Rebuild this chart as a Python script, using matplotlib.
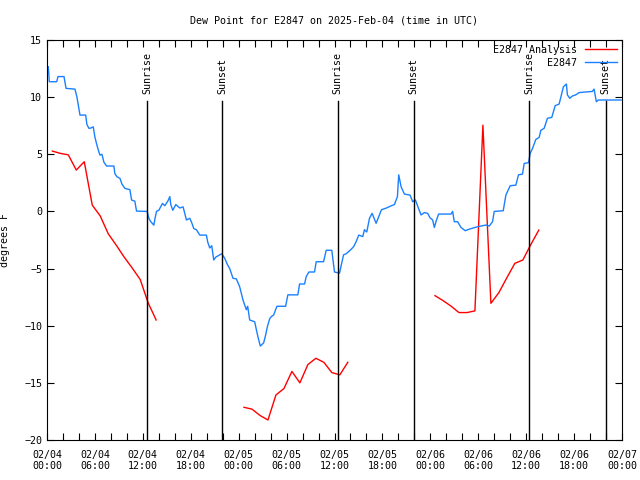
import numpy as np
import pandas as pd
import matplotlib
matplotlib.use("Agg")
import matplotlib.pyplot as plt
import matplotlib.dates as mdates

plt.rcParams['font.family'] = ['DejaVu Sans Mono']

start = pd.Timestamp("2025-02-04 00:00")

# station observations: hours since 02/04 00:00 UTC, dew point (F)
obs_hours = [0.16, 0.29, 1.21, 1.38, 2.13, 2.38, 3.5, 3.75, 4.13, 4.84, 5.0, 5.25, 5.5, 5.79,
             6.0, 6.25, 6.5, 6.63, 6.88, 7.13, 7.46, 7.88, 8.38, 8.5, 8.75, 9.13, 9.38, 9.75,
             10.38, 10.59, 11.0, 11.21, 12.54, 12.75, 13.0, 13.38, 13.5, 13.71, 14.0, 14.46,
             14.75, 15.13, 15.38, 15.5, 15.75, 16.13, 16.63, 17.04, 17.46, 17.88, 18.13, 18.38,
             18.71, 19.13, 19.96, 20.13, 20.38, 20.63, 20.88, 21.13, 21.63, 21.88, 22.25, 22.63,
             22.88, 23.29, 23.71, 24.13, 24.54, 24.96, 25.13, 25.38, 26.0, 26.41, 26.71, 27.13,
             27.38, 27.59, 27.88, 28.09, 28.38, 28.79, 29.88, 30.16, 31.41, 31.63, 32.25, 32.46,
             32.79, 33.5, 33.71, 34.63, 34.96, 35.66, 36.0, 36.63, 37.13, 37.46, 37.96, 38.38,
             38.71, 39.04, 39.54, 39.75, 40.04, 40.38, 40.71, 41.21, 41.63, 41.88, 42.5, 43.13,
             43.5, 43.71, 43.88, 44.04, 44.34, 44.75, 45.46, 45.79, 46.13, 46.41, 46.84, 47.25,
             47.66, 47.96, 48.29, 48.5, 48.75, 49.04, 50.59, 50.79, 51.0, 51.41, 51.84, 52.38,
             52.79, 53.5, 53.91, 54.96, 55.38, 55.79, 56.0, 57.13, 57.46, 58.0, 58.71, 59.04,
             59.54, 59.75, 60.29, 60.5, 60.79, 61.21, 61.63, 61.84, 62.25, 62.66, 63.21, 63.63,
             64.13, 64.34, 64.66, 65.04, 65.16, 65.46, 65.79, 66.21, 66.63, 68.29, 68.5, 68.79,
             69.04, 71.88]
obs_dewpt = [12.66, 11.35, 11.35, 11.8, 11.8, 10.77, 10.7, 10.0, 8.43, 8.43, 7.6, 7.27, 7.3, 7.4,
             6.5, 5.8, 5.2, 4.93, 5.0, 4.3, 3.97, 3.98, 3.97, 3.3, 3.04, 2.9, 2.4, 2.02,
             1.9, 1.0, 0.9, 0.03, 0.0, -0.6, -0.9, -1.2, -0.7, 0.0, 0.1, 0.7,
             0.5, 0.9, 1.3, 0.6, 0.1, 0.6, 0.3, 0.4, -0.75, -0.6, -1.0, -1.5,
             -1.6, -2.07, -2.07, -2.7, -3.2, -3.0, -4.25, -4.0, -3.8, -3.7, -4.1, -4.7,
             -5.0, -5.85, -5.9, -6.6, -7.75, -8.6, -8.3, -9.5, -9.65, -10.96, -11.78, -11.5,
             -10.8, -10.1, -9.4, -9.2, -9.06, -8.3, -8.3, -7.3, -7.3, -6.35, -6.35, -5.7,
             -5.3, -5.3, -4.4, -4.4, -3.4, -3.4, -5.3, -5.4, -3.8, -3.7, -3.4, -3.1,
             -2.65, -2.07, -2.2, -1.6, -1.8, -0.6, -0.17, -1.04, -0.3, 0.15, 0.3, 0.5,
             0.6, 1.0, 1.3, 3.2, 2.16, 1.52, 1.43, 0.85, 1.0, 0.47, -0.31, -0.1,
             -0.17, -0.55, -0.75, -1.4, -0.8, -0.23, -0.23, 0.0, -0.9, -0.9, -1.4, -1.69,
             -1.57, -1.43, -1.34, -1.19, -1.28, -0.9, 0.0, 0.06, 1.43, 2.25, 2.3, 3.2,
             3.27, 4.2, 4.26, 5.08, 5.5, 6.3, 6.48, 7.1, 7.27, 8.15, 8.23, 9.25,
             9.4, 9.98, 10.9, 11.15, 10.2, 9.9, 10.1, 10.2, 10.4, 10.5, 10.7, 9.6,
             9.75, 9.75]

# analysis: hourly values, three separate runs
ana1_start = "2025-02-04 00:40"
ana1 = [5.28, 5.08, 4.95, 3.62, 4.35, 0.55, -0.4, -1.95, -2.95, -4.0, -4.95, -5.95, -8.0, -9.5]
ana2_start = "2025-02-05 00:40"
ana2 = [-17.14, -17.3, -17.85, -18.25, -16.06, -15.5, -14.0, -15.0, -13.4, -12.85, -13.2,
        -14.1, -14.3, -13.2]
ana3_start = "2025-02-06 00:35"
ana3 = [-7.37, -7.8, -8.28, -8.85, -8.85, -8.7, 7.55, -8.04, -7.1, -5.8, -4.54, -4.25, -2.9, -1.63]

sunrise = ["2025-02-04 12:32", "2025-02-05 12:25", "2025-02-06 12:25"]
sunset = ["2025-02-04 21:56", "2025-02-05 21:55", "2025-02-06 21:58"]

fig = plt.figure(figsize=(6.4, 4.8), dpi=100)
ax = fig.add_axes([47/640, 40/480, 575/640, 400/480])

obs_t = start + pd.to_timedelta(obs_hours, unit="h")
first = True
for s, vals in [(ana1_start, ana1), (ana2_start, ana2), (ana3_start, ana3)]:
    t = pd.date_range(s, periods=len(vals), freq="h")
    ax.plot(t, vals, color="#ff0000", lw=1.0, label="E2847 Analysis" if first else None)
    first = False
ax.plot(obs_t, obs_dewpt, color="#1a80ff", lw=1.0, label="E2847")

# sunrise / sunset markers
ymin, ymax = -20, 15
for name, times in [("Sunrise", sunrise), ("Sunset", sunset)]:
    for s in times:
        t = pd.Timestamp(s)
        ax.plot([t, t], [ymin, 9.7], color="black", lw=1.0)
        ax.text(t, 10.3, name, rotation=90, ha="center", va="bottom", fontsize=7.2)

ax.set_xlim(start, start + pd.Timedelta(hours=72))
ax.set_ylim(ymin, ymax)
ax.set_yticks(np.arange(-20, 16, 5))
ax.xaxis.set_major_locator(mdates.HourLocator(byhour=[0, 6, 12, 18]))
ax.xaxis.set_minor_locator(mdates.HourLocator(byhour=range(0, 24, 2)))
ax.xaxis.set_major_formatter(mdates.DateFormatter("%m/%d\n%H:%M"))
ax.tick_params(which="both", direction="in", top=True, right=True, labelsize=7.2,
               length=5, width=0.8)
ax.tick_params(axis="x", pad=7)
for sp in ax.spines.values():
    sp.set_linewidth(0.8)

ax.set_ylabel("degrees F", fontsize=7.2)
ax.yaxis.set_label_coords(-0.064, 0.5)
ax.set_title("Dew Point for E2847 on 2025-Feb-04 (time in UTC)", fontsize=7.2, pad=12)
ax.legend(loc="upper right", frameon=False, markerfirst=False, fontsize=7.2,
          handlelength=3.2, borderaxespad=0.1, labelspacing=0.3, handletextpad=0.8)

fig.savefig("out.png", dpi=100)
